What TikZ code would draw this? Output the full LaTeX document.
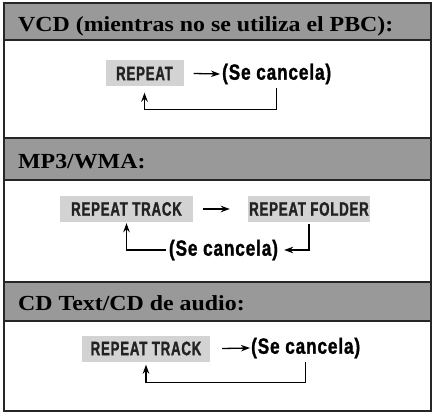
\documentclass[tikz,border=0pt]{standalone}
\usepackage{fontspec}
\usetikzlibrary{arrows.meta}
\setmainfont{Liberation Serif}
\newfontfamily\headfont[FakeStretch=1.11]{Liberation Serif}
\newfontfamily\boxfont[FakeStretch=0.68,FakeBold=1.3,LetterSpace=4]{Liberation Sans}
\newfontfamily\cancfont[FakeStretch=0.78,FakeBold=1.3,LetterSpace=4]{Liberation Sans}
\definecolor{headgray}{HTML}{999999}
\definecolor{boxgray}{HTML}{D3D3D3}
\definecolor{boxtext}{HTML}{222222}
\tikzset{
  head/.style={anchor=base west, inner sep=0pt, font=\headfont\bfseries\fontsize{21.5}{21.5}\selectfont},
  rbox/.style={fill=boxgray, text=boxtext, inner sep=0pt, minimum height=26pt, font=\boxfont\bfseries\fontsize{19.5}{19.5}\selectfont},
  canc/.style={inner sep=0pt, font=\cancfont\bfseries\fontsize{22}{22}\selectfont},
  arr/.style={line width=1.3pt, -{Stealth[length=9pt,width=6.5pt]}},
  sep/.style={line width=1.5pt, black!85}
}
\begin{document}
\begin{tikzpicture}[x=1pt,y=-1pt]
\useasboundingbox (0,0) rectangle (432,412);
\fill[white] (0,0) rectangle (432,412);
% headers
\fill[headgray] (3.5,3.5) rectangle (430.5,40);
\fill[headgray] (3.5,138) rectangle (430.5,180);
\fill[headgray] (3.5,282) rectangle (430.5,321);
\draw[sep] (3.5,40) -- (430.5,40);
\draw[sep] (3.5,138) -- (430.5,138);
\draw[sep] (3.5,180) -- (430.5,180);
\draw[sep] (3.5,282) -- (430.5,282);
\draw[sep] (3.5,321) -- (430.5,321);
\draw[line width=2pt, black!85] (3.5,3.5) rectangle (430.5,410.5);
\node[head] (h1) at (18,32) {VCD (mientras no se utiliza el PBC):};
\node[head] (h2) at (18,168) {MP3/WMA:};
\node[head] (h3) at (18,310) {CD Text/CD de audio:};
% section 1
\node[rbox, minimum width=78pt] (b1) at (144.5,73.5) {REPEAT};
\node[canc, anchor=west] (c1) at (222,74) {(Se cancela)};
\draw[arr] ([xshift=10pt]b1.east) -- ([xshift=-2pt]c1.west);
\draw[arr] ([yshift=-4pt]c1.south) -- ++(0,21) -| ([yshift=-6pt]b1.south);
% section 2
\node[rbox, minimum width=133pt] (b2a) at (126.5,209) {REPEAT TRACK};
\node[rbox, minimum width=122pt] (b2b) at (309,209) {REPEAT FOLDER};
\node[canc] (c2) at (223.5,250) {(Se cancela)};
\draw[arr] ([xshift=10pt]b2a.east) -- ([xshift=-18pt]b2b.west);
\draw[arr] ([yshift=-2pt]b2b.south) |- ([xshift=6pt]c2.east);
\draw[arr] ([xshift=-3pt]c2.west) -| ([yshift=-1pt]b2a.south);
% section 3
\node[rbox, minimum width=128pt] (b3) at (146,348.5) {REPEAT TRACK};
\node[canc, anchor=west] (c3) at (251,348) {(Se cancela)};
\draw[arr] ([xshift=12pt]b3.east) -- ([xshift=-1pt]c3.west);
\draw[arr] ([yshift=-4pt]c3.south) -- ++(0,20) -| ([yshift=-3pt]b3.south);
\end{tikzpicture}
\end{document}
